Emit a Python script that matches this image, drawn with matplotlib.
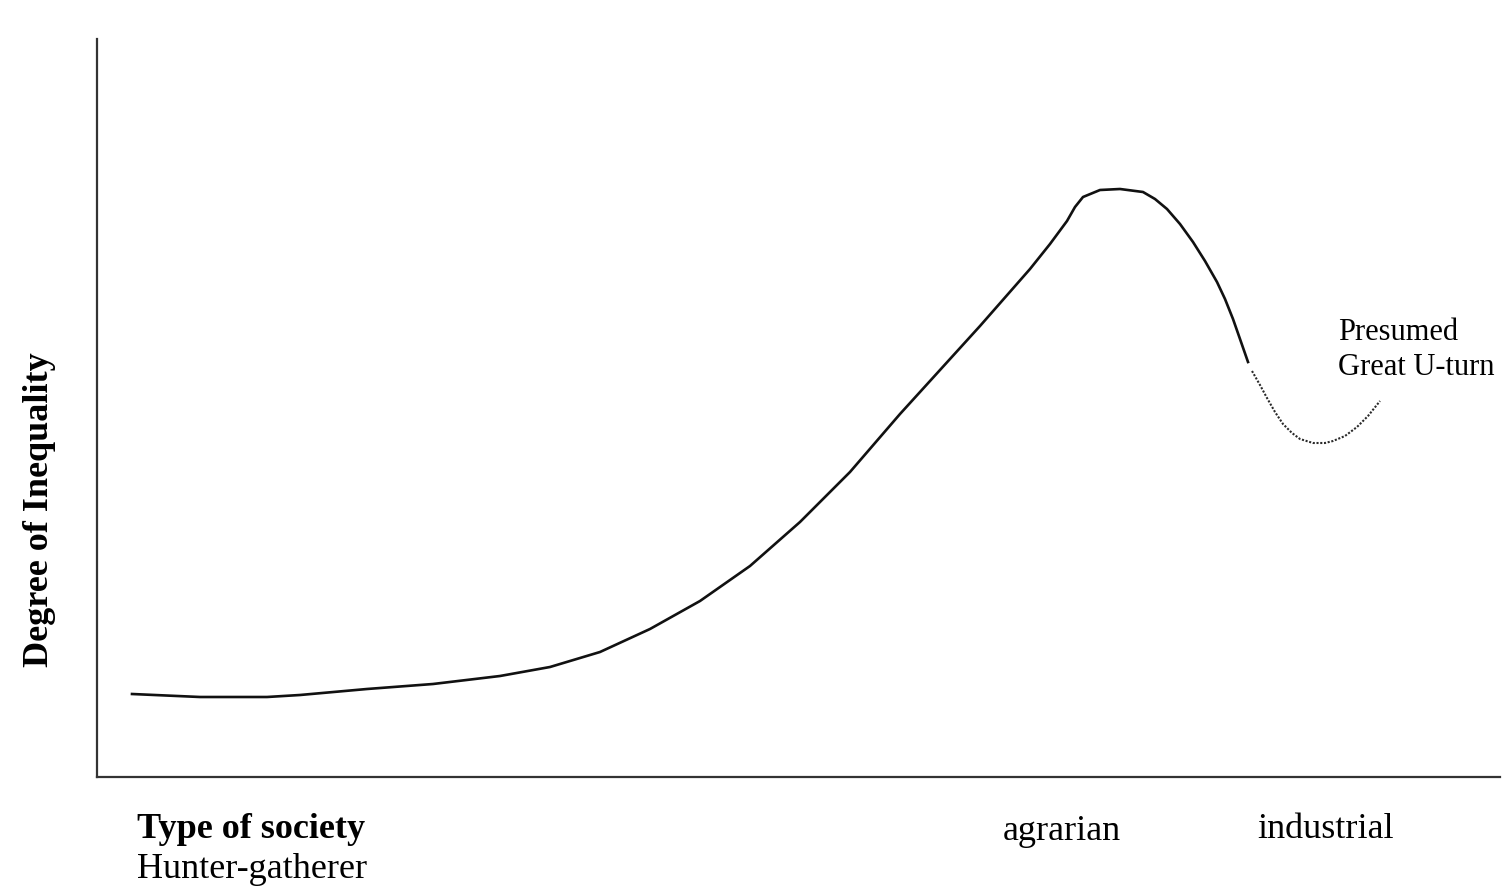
import matplotlib.pyplot as plt

# curve (x right, y up)
solid_x = [132, 200, 267, 300, 367, 433, 500, 550, 600, 650, 700, 750, 800, 850, 900,
           930, 980, 1030, 1050, 1067, 1075, 1083, 1100, 1120, 1143, 1155, 1167, 1180,
           1193, 1205, 1217, 1225, 1233, 1240, 1248]
solid_y = [192, 189, 189, 191, 197, 202, 210, 219, 234, 257, 285, 320, 364, 414, 472,
           505, 560, 617, 642, 665, 679, 689, 696, 697, 694, 687, 677, 662, 644, 625,
           604, 587, 567, 547, 524]

dotted_x = [1252, 1260, 1267, 1275, 1283, 1292, 1300, 1313, 1325, 1333, 1345, 1357, 1368, 1380]
dotted_y = [515, 501, 488, 474, 462, 453, 447, 443, 443, 445, 450, 459, 470, 485]

cat_labels = ["agrarian", "industrial"]
cat_x = [1003, 1257]
cat_base = [47, 49]

plt.rcParams['font.family'] = ['Liberation Serif', 'DejaVu Serif']

fig = plt.figure(figsize=(15.02, 8.87), dpi=100)
ax = fig.add_axes([97 / 1502, 109 / 887, 1403 / 1502, 738 / 887])
ax.set_xlim(97, 1500)
ax.set_ylim(109, 847)

ax.plot(solid_x, solid_y, color='#111111', lw=1.9, solid_joinstyle='round')
ax.plot(dotted_x, dotted_y, color='#2a2a2a', lw=1.5, linestyle=(0, (1, 0.8)))

for s in ['top', 'right']:
    ax.spines[s].set_visible(False)
for s in ['left', 'bottom']:
    ax.spines[s].set_color('#333333')
    ax.spines[s].set_linewidth(1.6)
ax.set_xticks([])
ax.set_yticks([])

ax.set_ylabel("Degree of Inequality", fontsize=26, fontweight='bold', va='center')
ax.yaxis.set_label_coords(-0.041, 0.363)

ax.text(137, 49, "Type of society", fontsize=26, fontweight='bold', va='baseline')
ax.text(137, 9, "Hunter-gatherer", fontsize=26, va='baseline', clip_on=False)
for lab, x, b in zip(cat_labels, cat_x, cat_base):
    ax.text(x, b, lab, fontsize=26, va='baseline', clip_on=False)

ax.text(1338, 547, "Presumed", fontsize=22, va='baseline')
ax.text(1338, 512, "Great U-turn", fontsize=22, va='baseline')

fig.savefig("out.png", dpi=100)
